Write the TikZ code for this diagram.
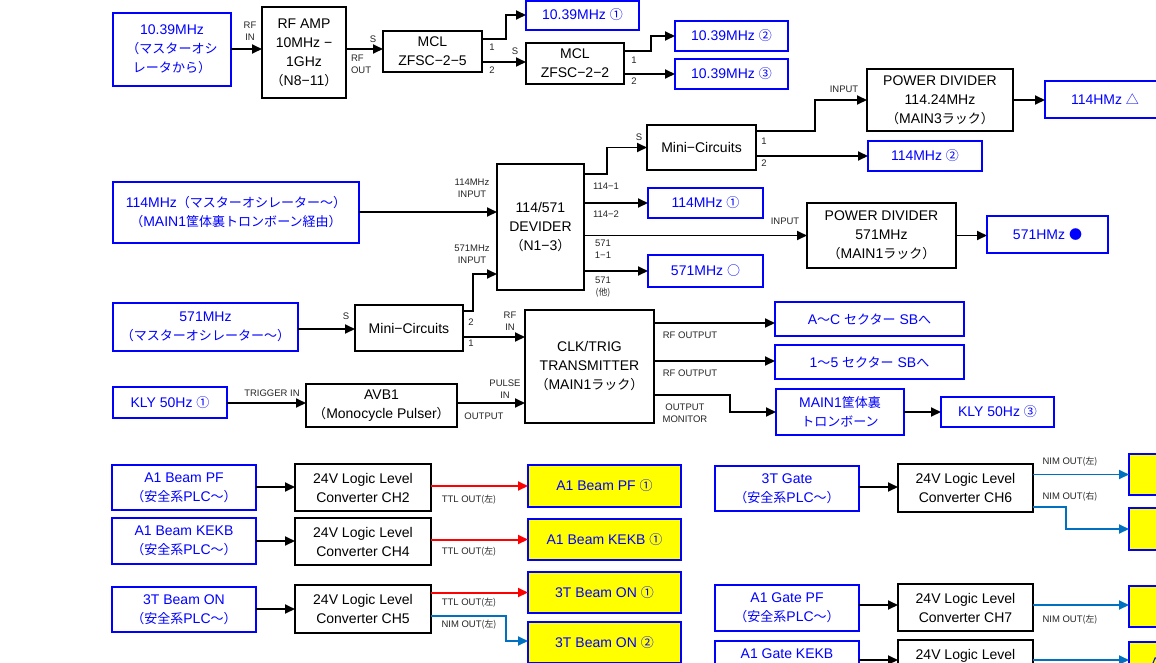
\documentclass[tikz,border=0pt]{standalone}
\usepackage{fontspec}
\setmainfont{Liberation Sans}
\newfontfamily\jpfont{Noto Sans CJK JP}[Scale=0.93]
\newcommand\J[1]{{\jpfont #1}}
\usetikzlibrary{arrows.meta}
\definecolor{tblue}{RGB}{0,0,255}
\definecolor{nimblue}{RGB}{0,112,192}
\definecolor{yel}{RGB}{255,255,0}
\begin{document}
\begin{tikzpicture}[x=1pt,y=-1pt,
  every node/.style={inner sep=0pt, outer sep=0pt},
  bbox/.style={draw=black, line width=1.8pt, fill=white, align=center, font=\fontsize{14}{19}\selectfont},
  ubox/.style={draw=tblue, line width=2pt, fill=white, text=tblue, align=center, font=\fontsize{14}{19}\selectfont},
  ybox/.style={ubox, fill=yel},
  lbl/.style={font=\fontsize{9.5}{12}\selectfont, align=center, text=black!85},
  arr/.style={line width=1.8pt, -{Triangle[length=10pt,width=9pt]}},
  rarr/.style={arr, draw=red, line width=2pt},
  narr/.style={arr, draw=nimblue},
]
\useasboundingbox (0,0) rectangle (1156,662);
\clip (0,0) rectangle (1156,662);
\fill[white] (0,0) rectangle (1156,662);

% ---------- top row ----------
\node[ubox, minimum width=118pt, minimum height=73pt] (src1) at (172,49.5) {10.39MHz\\\J{（マスターオシ}\\\J{レータから）}};
\node[bbox, minimum width=84pt, minimum height=91pt] (amp) at (304,52.5) {RF AMP\\10MHz −\\1GHz\\\J{（}N8−11\J{）}};
\node[bbox, minimum width=99pt, minimum height=41pt] (mcl1) at (432.5,51.5) {MCL\\ZFSC−2−5};
\node[ubox, minimum width=113pt, minimum height=29pt] (o1) at (582.5,15) {10.39MHz \J{①}};
\node[bbox, minimum width=98pt, minimum height=41pt] (mcl2) at (575,63.5) {MCL\\ZFSC−2−2};
\node[ubox, minimum width=113pt, minimum height=30pt] (o2) at (731.5,36) {10.39MHz \J{②}};
\node[ubox, minimum width=113pt, minimum height=30pt] (o3) at (731.5,74) {10.39MHz \J{③}};

\draw[arr] (src1.east |- 0,49) -- (amp.west |- 0,49);
\draw[arr] (amp.east |- 0,49) -- (mcl1.west |- 0,49);
\draw[arr] (mcl1.east |- 0,39) -- (506,39) |- (o1.west);
\draw[arr] (mcl1.east |- 0,62) -- (mcl2.west |- 0,62);
\draw[arr] (mcl2.east |- 0,51) -- (651,51) |- (o2.west);
\draw[arr] (mcl2.east |- 0,74) -- (o3.west);

\node[lbl] (l1) at (250,31) {RF\\IN};
\node[lbl] (l2) at (373,39) {S};
\node[lbl, anchor=west, align=left] (l3) at (351,64) {RF\\OUT};
\node[lbl] (l4) at (492,47) {1};
\node[lbl] (l5) at (492,70) {2};
\node[lbl] (l6) at (515,51) {S};
\node[lbl] (l7) at (634,60) {1};
\node[lbl] (l8) at (634,81) {2};

% ---------- 114 / 571 section ----------
\node[bbox, minimum width=146pt, minimum height=62pt] (pd114) at (940,100) {POWER DIVIDER\\114.24MHz\\\J{（}MAIN3\J{ラック）}};
\node[ubox, minimum width=120pt, minimum height=37pt] (o114t) at (1105,99.5) {114HMz \J{△}};
\node[bbox, minimum width=109pt, minimum height=45pt] (mc1) at (701.5,147.5) {Mini−Circuits};
\node[ubox, minimum width=114pt, minimum height=30pt] (o114b) at (925,156) {114MHz \J{②}};
\node[bbox, minimum width=87pt, minimum height=126pt] (div) at (540.5,227) {114/571\\DEVIDER\\\J{（}N1−3\J{）}};
\node[ubox, minimum width=246pt, minimum height=61pt] (src114) at (236,212.5) {114MHz\J{（マスターオシレーター〜）}\\\J{（}MAIN1\J{筐体裏トロンボーン経由）}};
\node[ubox, minimum width=115pt, minimum height=30pt] (o114a) at (705.5,203) {114MHz \J{①}};
\node[bbox, minimum width=149pt, minimum height=65pt] (pd571) at (881.5,235.5) {POWER DIVIDER\\571MHz\\\J{（}MAIN1\J{ラック）}};
\node[ubox, minimum width=121pt, minimum height=37pt] (o571d) at (1047.5,234.5) {571HMz \J{●}};
\node[ubox, minimum width=115pt, minimum height=32pt] (o571o) at (705.5,271) {571MHz \J{○}};

\draw[arr] (mc1.east |- 0,131) -- (815,131) |- (pd114.west);
\draw[arr] (pd114.east) -- (o114t.west |- pd114.east);
\draw[arr] (mc1.east |- 0,156) -- (o114b.west);
\draw[arr] (div.east |- 0,174) -- (607,174) |- (mc1.west);
\draw[arr] (div.east |- 0,203) -- (o114a.west);
\draw[arr] (div.east |- pd571.west) -- (pd571.west);
\draw[arr] (div.east |- 0,271) -- (o571o.west);
\draw[arr] (pd571.east) -- (o571d.west |- pd571.east);
\draw[arr] (src114.east |- 0,212) -- (div.west |- 0,212);

\node[lbl] (l9) at (844,89) {INPUT};
\node[lbl] (l10) at (639,137) {S};
\node[lbl] (l11) at (764,141) {1};
\node[lbl] (l12) at (764,163) {2};
\node[lbl] (l13) at (472,188.5) {114MHz\\INPUT};
\node[lbl] (l14) at (472,254) {571MHz\\INPUT};
\node[lbl] (l15) at (606,186) {114−1};
\node[lbl] (l16) at (606,214) {114−2};
\node[lbl] (l17) at (603,249.5) {571\\1−1};
\node[lbl] (l18) at (603,287) {571\\\J{(他)}};
\node[lbl] (l19) at (785,221) {INPUT};

% ---------- CLK / TRIG section ----------
\node[ubox, minimum width=185pt, minimum height=48pt] (src571) at (205.5,327) {571MHz\\\J{（マスターオシレーター〜）}};
\node[bbox, minimum width=108pt, minimum height=46pt] (mc2) at (409,328) {Mini−Circuits};
\node[bbox, minimum width=129pt, minimum height=113pt] (clk) at (589.5,366.5) {CLK/TRIG\\TRANSMITTER\\\J{（}MAIN1\J{ラック）}};
\node[ubox, minimum width=189pt, minimum height=34pt] (sbac) at (869.5,319) {A\J{〜}C \J{セクター} SB\J{へ}};
\node[ubox, minimum width=189pt, minimum height=34pt] (sb15) at (869.5,362) {1\J{〜}5 \J{セクター} SB\J{へ}};
\node[ubox, minimum width=128pt, minimum height=46pt] (trom) at (840,412) {MAIN1\J{筐体裏}\\\J{トロンボーン}};
\node[ubox, minimum width=113pt, minimum height=30pt] (kly3) at (997.5,412) {KLY 50Hz \J{③}};
\node[ubox, minimum width=114pt, minimum height=31pt] (kly1) at (170,402.5) {KLY 50Hz \J{①}};
\node[bbox, minimum width=151pt, minimum height=43pt] (avb) at (381.5,405.5) {AVB1\\\J{（}Monocycle Pulser\J{）}};

\draw[arr] (src571.east |- 0,329) -- (mc2.west |- 0,329);
\draw[arr] (mc2.east |- 0,311) -- (473,311) |- (div.west |- 0,274);
\draw[arr] (mc2.east |- 0,337) -- (clk.west |- 0,337);
\draw[arr] (kly1.east |- 0,403) -- (avb.west |- 0,403);
\draw[arr] (avb.east |- 0,403) -- (clk.west |- 0,403);
\draw[arr] (clk.east |- 0,323) -- (sbac.west |- 0,323);
\draw[arr] (clk.east |- 0,361) -- (sb15.west |- 0,361);
\draw[arr] (clk.east |- 0,395) -- (730,395) |- (trom.west);
\draw[arr] (trom.east) -- (kly3.west);

\node[lbl] (l20) at (346,316) {S};
\node[lbl] (l21) at (471,322) {2};
\node[lbl] (l22) at (471,343) {1};
\node[lbl] (l23) at (510,321.5) {RF\\IN};
\node[lbl] (l24) at (272,393) {TRIGGER IN};
\node[lbl] (l25) at (505,389) {PULSE\\IN};
\node[lbl] (l26) at (484,416) {OUTPUT};
\node[lbl] (l27) at (690,335) {RF OUTPUT};
\node[lbl] (l28) at (690,373) {RF OUTPUT};
\node[lbl] (l29) at (685,413) {OUTPUT\\MONITOR};

% ---------- bottom left ----------
\node[ubox, minimum width=144pt, minimum height=45pt] (pf) at (184,487.5) {A1 Beam PF\\\J{（安全系}PLC\J{〜）}};
\node[bbox, minimum width=136pt, minimum height=47pt] (ch2) at (363,487.5) {24V Logic Level\\Converter CH2};
\node[ybox, minimum width=153pt, minimum height=42pt] (ypf) at (604.5,486) {A1 Beam PF \J{①}};
\node[ubox, minimum width=144pt, minimum height=46pt] (kekb) at (184,541) {A1 Beam KEKB\\\J{（安全系}PLC\J{〜）}};
\node[bbox, minimum width=136pt, minimum height=47pt] (ch4) at (363,541.5) {24V Logic Level\\Converter CH4};
\node[ybox, minimum width=153pt, minimum height=41pt] (ykekb) at (604.5,539.5) {A1 Beam KEKB \J{①}};
\node[ubox, minimum width=144pt, minimum height=45pt] (bon) at (184,609.5) {3T Beam ON\\\J{（安全系}PLC\J{〜）}};
\node[bbox, minimum width=136pt, minimum height=48pt] (ch5) at (363,609) {24V Logic Level\\Converter CH5};
\node[ybox, minimum width=153pt, minimum height=41pt] (yon1) at (604.5,592.5) {3T Beam ON \J{①}};
\node[ybox, minimum width=153pt, minimum height=41pt] (yon2) at (604.5,642.5) {3T Beam ON \J{②}};

\draw[arr] (pf.east |- 0,487) -- (ch2.west |- 0,487);
\draw[rarr] (ch2.east |- 0,486) -- (ypf.west |- 0,486);
\draw[arr] (kekb.east |- 0,541) -- (ch4.west |- 0,541);
\draw[rarr] (ch4.east |- 0,539.5) -- (ykekb.west);
\draw[arr] (bon.east |- 0,609) -- (ch5.west |- 0,609);
\draw[rarr] (ch5.east |- 0,592.5) -- (yon1.west);
\draw[narr] (ch5.east |- 0,616) -- (506,616) |- (yon2.west |- 0,641);

\node[lbl] (l30) at (469,500) {TTL OUT\J{(左)}};
\node[lbl] (l31) at (469,552) {TTL OUT\J{(左)}};
\node[lbl] (l32) at (469,603) {TTL OUT\J{(左)}};
\node[lbl] (l33) at (469,625) {NIM OUT\J{(左)}};

% ---------- bottom right ----------
\node[ubox, minimum width=144pt, minimum height=45pt] (g3t) at (787,488.5) {3T Gate\\\J{（安全系}PLC\J{〜）}};
\node[bbox, minimum width=135pt, minimum height=48pt] (ch6) at (965.5,488) {24V Logic Level\\Converter CH6};
\node[ybox, minimum width=153pt, minimum height=41pt] (y6a) at (1205.5,474.5) {};
\node[ybox, minimum width=153pt, minimum height=42pt] (y6b) at (1205.5,529) {};
\node[ubox, minimum width=144pt, minimum height=46pt] (gpf) at (787,608) {A1 Gate PF\\\J{（安全系}PLC\J{〜）}};
\node[bbox, minimum width=135pt, minimum height=47pt] (ch7) at (965.5,607.5) {24V Logic Level\\Converter CH7};
\node[ybox, minimum width=153pt, minimum height=41pt] (y7) at (1205.5,606.5) {};
\node[ubox, minimum width=144pt, minimum height=46pt] (gkekb) at (787,664) {A1 Gate KEKB\\\J{（安全系}PLC\J{〜）}};
\node[bbox, minimum width=135pt, minimum height=48pt] (ch8) at (965.5,664) {24V Logic Level\\Converter CH8};
\node[ybox, minimum width=153pt, minimum height=41pt] (y8) at (1205.5,662.5) {A1 Gate KEKB \J{①}};

\draw[arr] (g3t.east |- 0,487) -- (ch6.west |- 0,487);
\draw[narr] (ch6.east |- 0,474.5) -- (y6a.west);
\draw[narr] (ch6.east |- 0,507) -- (1066,507) |- (y6b.west);
\draw[arr] (gpf.east |- 0,605) -- (ch7.west |- 0,605);
\draw[narr] (ch7.east |- 0,605) -- (y7.west |- 0,605);
\draw[arr] (gkekb.east |- 0,660) -- (ch8.west |- 0,660);
\draw[narr] (ch8.east |- 0,660) -- (y8.west |- 0,660);

\node[lbl] (l34) at (1070,462) {NIM OUT\J{(左)}};
\node[lbl] (l35) at (1070,497) {NIM OUT\J{(右)}};
\node[lbl] (l36) at (1070,620) {NIM OUT\J{(左)}};
\end{tikzpicture}
\end{document}
